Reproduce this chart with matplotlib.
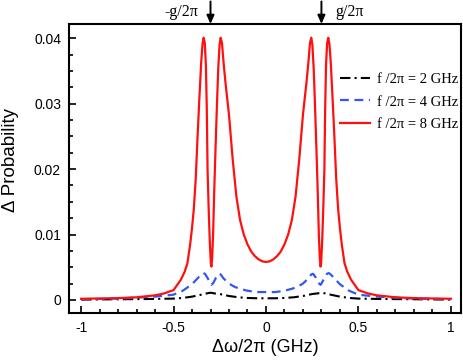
import matplotlib
matplotlib.use("Agg")
import matplotlib.pyplot as plt
from matplotlib.ticker import MultipleLocator, FixedLocator

# Detuning (GHz) and probability difference.
x_red = [
    -1.00, -0.90, -0.80, -0.70, -0.60, -0.55, -0.50, -0.48, -0.46, -0.44,
    -0.425, -0.41, -0.40, -0.39, -0.38, -0.37, -0.36, -0.35, -0.343, -0.337,
    -0.331, -0.325, -0.320, -0.316, -0.310, -0.304, -0.298, -0.295, -0.291,
    -0.286, -0.280, -0.273, -0.265, -0.258, -0.251, -0.245, -0.238, -0.230,
    -0.22, -0.20, -0.18, -0.16, -0.14, -0.12, -0.10, -0.08, -0.06, -0.04,
    -0.02, 0.00, 0.02, 0.04, 0.06, 0.08, 0.10, 0.12, 0.14, 0.16, 0.18, 0.20,
    0.22, 0.230, 0.238, 0.245, 0.251, 0.258, 0.265, 0.273, 0.280, 0.286,
    0.291, 0.295, 0.298, 0.304, 0.310, 0.316, 0.320, 0.325, 0.331, 0.337,
    0.343, 0.35, 0.36, 0.37, 0.38, 0.39, 0.40, 0.41, 0.425, 0.44, 0.46, 0.48,
    0.50, 0.55, 0.60, 0.70, 0.80, 0.90, 1.00,
]
y_red = [
    0.00018, 0.00022, 0.00028, 0.00040, 0.00070, 0.0010, 0.0015, 0.0023,
    0.0031, 0.0043, 0.0056, 0.0085, 0.0110, 0.0140, 0.0185, 0.0250, 0.0310,
    0.0365, 0.0392, 0.0401, 0.0393, 0.0360, 0.0290, 0.0200, 0.0140, 0.0090,
    0.0055, 0.0051, 0.0065, 0.0100, 0.0165, 0.0230, 0.0300, 0.0355, 0.0390,
    0.0401, 0.0393, 0.0365, 0.0335, 0.0283, 0.0215, 0.0158, 0.0122, 0.0100,
    0.0085, 0.0074, 0.0067, 0.0062, 0.0059, 0.0058, 0.0059, 0.0062, 0.0067,
    0.0074, 0.0085, 0.0100, 0.0122, 0.0158, 0.0215, 0.0283, 0.0335, 0.0365,
    0.0393, 0.0401, 0.0390, 0.0355, 0.0300, 0.0230, 0.0165, 0.0100, 0.0065,
    0.0051, 0.0055, 0.0090, 0.0140, 0.0200, 0.0290, 0.0360, 0.0393, 0.0401,
    0.0392, 0.0365, 0.0310, 0.0250, 0.0185, 0.0140, 0.0110, 0.0085, 0.0056,
    0.0043, 0.0031, 0.0023, 0.0015, 0.0010, 0.00070, 0.00040, 0.00028,
    0.00022, 0.00018,
]

x_blue = [
    -1.00, -0.80, -0.60, -0.50, -0.45, -0.40, -0.37, -0.35, -0.34, -0.33,
    -0.315, -0.30, -0.295, -0.285, -0.27, -0.255, -0.245, -0.23, -0.20,
    -0.17, -0.14, -0.10, -0.05, 0.00, 0.05, 0.10, 0.14, 0.17, 0.20, 0.23,
    0.245, 0.255, 0.27, 0.285, 0.295, 0.30, 0.315, 0.33, 0.34, 0.35, 0.37,
    0.40, 0.45, 0.50, 0.60, 0.80, 1.00,
]
y_blue = [
    0.0001, 0.0002, 0.0005, 0.0008, 0.0014, 0.0024, 0.0033, 0.0039, 0.0041,
    0.0040, 0.0033, 0.0025, 0.0023, 0.0026, 0.0034, 0.0040, 0.0039, 0.0033,
    0.0025, 0.0020, 0.0017, 0.0014, 0.0012, 0.0012, 0.0012, 0.0014, 0.0017,
    0.0020, 0.0025, 0.0033, 0.0039, 0.0040, 0.0034, 0.0026, 0.0023, 0.0025,
    0.0033, 0.0040, 0.0041, 0.0039, 0.0033, 0.0024, 0.0014, 0.0008, 0.0005,
    0.0002, 0.0001,
]

x_black = [
    -1.00, -0.80, -0.60, -0.50, -0.45, -0.40, -0.35, -0.32, -0.30, -0.28,
    -0.25, -0.20, -0.15, -0.10, -0.05, 0.00, 0.05, 0.10, 0.15, 0.20, 0.25,
    0.28, 0.30, 0.32, 0.35, 0.40, 0.45, 0.50, 0.60, 0.80, 1.00,
]
y_black = [
    0.00005, 0.0001, 0.00015, 0.0002, 0.0003, 0.0005, 0.0008, 0.0010,
    0.0011, 0.0010, 0.0009, 0.0006, 0.0004, 0.0003, 0.00025, 0.00025,
    0.00025, 0.0003, 0.0004, 0.0006, 0.0009, 0.0010, 0.0011, 0.0010,
    0.0008, 0.0005, 0.0003, 0.0002, 0.00015, 0.0001, 0.00005,
]

g_over_2pi = 0.3
labels = ["f /2\u03c0 = 2 GHz", "f /2\u03c0 = 4 GHz", "f /2\u03c0 = 8 GHz"]

SANS = ["Liberation Sans", "DejaVu Sans"]
SERIF = ["Liberation Serif", "DejaVu Serif"]
plt.rcParams["font.family"] = SANS

fig = plt.figure(figsize=(4.63, 3.62), dpi=100)
ax = fig.add_axes([0.150, 0.1354, 0.8457, 0.7983])

ax.plot(x_black, y_black, color="black", lw=1.5, ls=(0, (5, 2, 1, 2)),
        label=labels[0])
ax.plot(x_blue, y_blue, color="#3358f0", lw=1.6, ls=(0, (4, 2.5)),
        label=labels[1])
ax.plot(x_red, y_red, color="#ff1010", lw=1.6, label=labels[2])

ax.set_xlim(-1.063, 1.055)
ax.set_ylim(-0.002, 0.0422)

ax.xaxis.set_major_locator(FixedLocator([-1, -0.5, 0, 0.5, 1]))
ax.xaxis.set_minor_locator(MultipleLocator(0.1))
ax.yaxis.set_major_locator(FixedLocator([0, 0.01, 0.02, 0.03, 0.04]))
ax.yaxis.set_minor_locator(MultipleLocator(0.0025))
ax.set_xticklabels(["-1", "-0.5", "0", "0.5", "1"])
ax.set_yticklabels(["0", "0.01", "0.02", "0.03", "0.04"])

ax.tick_params(which="both", direction="in", width=1.2, labelsize=10,
               top=False, right=False)
ax.tick_params(which="major", length=5, pad=6)
ax.tick_params(which="minor", length=3)
for s in ax.spines.values():
    s.set_linewidth(1.5)

ax.set_xlabel("\u0394\u03c9/2\u03c0 (GHz)", fontsize=13, labelpad=3)
ax.set_ylabel("\u0394 Probability", fontsize=13.5)
ax.yaxis.set_label_coords(-0.13, 0.53)

ax.legend(loc="upper left", bbox_to_anchor=(0.691, 0.83), frameon=False,
          handlelength=2.05, handletextpad=0.48, labelspacing=0.62,
          borderpad=0, borderaxespad=0,
          prop={"family": SERIF, "size": 10.5})

# Arrows above the frame marking +-g/2pi.
for sign in (-1, 1):
    ax.annotate("", xy=(sign * g_over_2pi, 1.0),
                xytext=(sign * g_over_2pi, 1.078),
                xycoords=("data", "axes fraction"),
                textcoords=("data", "axes fraction"),
                arrowprops=dict(arrowstyle="-|>,head_length=0.5,head_width=0.22",
                                color="black", lw=1.4, shrinkA=0, shrinkB=0),
                annotation_clip=False)
ax.text(-g_over_2pi - 0.068, 1.04, "-g/2\u03c0", transform=ax.get_xaxis_transform(),
        ha="right", va="center", family=SERIF, fontsize=11.5)
ax.text(g_over_2pi + 0.075, 1.04, "g/2\u03c0", transform=ax.get_xaxis_transform(),
        ha="left", va="center", family=SERIF, fontsize=11.5)

fig.savefig("out.png", dpi=100)
